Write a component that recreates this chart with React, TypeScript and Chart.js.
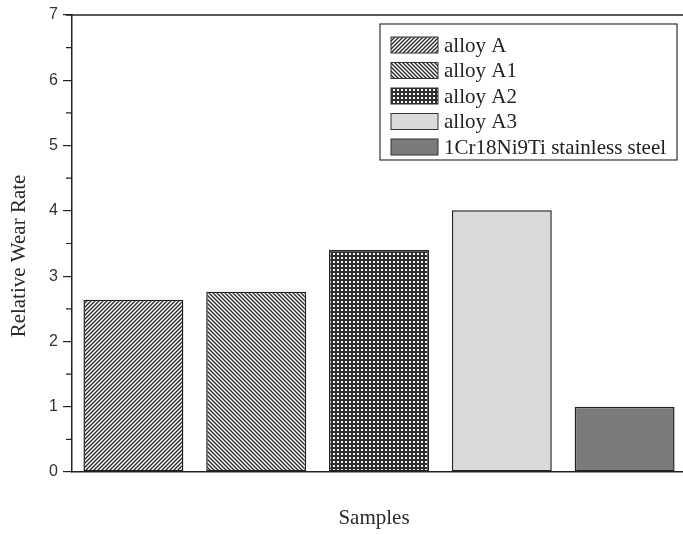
import React, { useEffect, useRef } from 'react';
import { Chart, registerables } from 'chart.js';

Chart.register(...registerables);

const categories = ['alloy A', 'alloy A1', 'alloy A2', 'alloy A3', '1Cr18Ni9Ti stainless steel'];
const wearRates = [2.64, 2.76, 3.4, 4.01, 1.0];
const fillKinds = ['forward', 'backward', 'dots', 'light', 'dark'];
const yMin = 0;
const yMax = 7;
const yStep = 1;
const xTitle = 'Samples';
const yTitle = 'Relative Wear Rate';

const SERIF = '"Liberation Serif", "Times New Roman", serif';
const SANS = '"Liberation Sans", Arial, sans-serif';

function makeFill(kind: string): CanvasPattern | string {
  if (kind === 'light') return '#d9d9d9';
  if (kind === 'dark') return '#7b7b7b';
  const c = document.createElement('canvas');
  const ctx = c.getContext('2d')!;
  if (kind === 'dots') {
    c.width = 4;
    c.height = 4;
    ctx.fillStyle = '#2e2e2e';
    ctx.fillRect(0, 0, 4, 4);
    ctx.fillStyle = '#f2f2f2';
    ctx.fillRect(1, 1, 2, 2);
    return ctx.createPattern(c, 'repeat')!;
  }
  const s = 4;
  c.width = s;
  c.height = s;
  ctx.fillStyle = '#ffffff';
  ctx.fillRect(0, 0, s, s);
  ctx.strokeStyle = '#262626';
  ctx.lineWidth = 1.3;
  ctx.beginPath();
  if (kind === 'forward') {
    ctx.moveTo(-1, s + 1);
    ctx.lineTo(s + 1, -1);
    ctx.moveTo(-1, 1);
    ctx.lineTo(1, -1);
    ctx.moveTo(s - 1, s + 1);
    ctx.lineTo(s + 1, s - 1);
  } else {
    ctx.moveTo(-1, -1);
    ctx.lineTo(s + 1, s + 1);
    ctx.moveTo(s - 1, -1);
    ctx.lineTo(s + 1, 1);
    ctx.moveTo(-1, s - 1);
    ctx.lineTo(1, s + 1);
  }
  ctx.stroke();
  return ctx.createPattern(c, 'repeat')!;
}

const framePlugin = {
  id: 'frameAndDecor',
  afterDraw(chart: any) {
    const { ctx, chartArea, scales } = chart;
    const ys = scales.y;
    ctx.save();
    // top frame line
    ctx.strokeStyle = '#222';
    ctx.lineWidth = 1.5;
    ctx.beginPath();
    ctx.moveTo(chartArea.left - 6, chartArea.top);
    ctx.lineTo(chartArea.right, chartArea.top);
    ctx.stroke();
    // minor ticks
    ctx.lineWidth = 1.2;
    ctx.beginPath();
    for (let v = yMin + yStep / 2; v < yMax; v += yStep) {
      const y = ys.getPixelForValue(v);
      ctx.moveTo(chartArea.left - 6, y);
      ctx.lineTo(chartArea.left, y);
    }
    ctx.stroke();
    // axis titles
    ctx.fillStyle = '#2a2a2a';
    ctx.font = `21px ${SERIF}`;
    ctx.textAlign = 'center';
    ctx.textBaseline = 'middle';
    ctx.fillText(xTitle, 374, 518);
    ctx.save();
    ctx.translate(19, 256);
    ctx.rotate(-Math.PI / 2);
    ctx.fillText(yTitle, 0, 0);
    ctx.restore();
    // legend
    const ds = chart.data.datasets[0];
    const bx = 380, by = 24, bw = 297, bh = 136;
    ctx.fillStyle = '#ffffff';
    ctx.fillRect(bx, by, bw, bh);
    ctx.strokeStyle = '#333';
    ctx.lineWidth = 1.2;
    ctx.strokeRect(bx, by, bw, bh);
    const labels: string[] = chart.data.labels;
    labels.forEach((lab: string, i: number) => {
      const cy = 45 + i * 25.5;
      ctx.fillStyle = ds.backgroundColor[i];
      ctx.fillRect(391, cy - 8, 47, 16);
      ctx.strokeStyle = '#333';
      ctx.lineWidth = 1;
      ctx.strokeRect(391, cy - 8, 47, 16);
      ctx.fillStyle = '#222';
      ctx.font = `21px ${SERIF}`;
      ctx.textAlign = 'left';
      ctx.textBaseline = 'middle';
      ctx.fillText(lab, 444, cy + 1);
    });
    ctx.restore();
  },
};

export default function App() {
  const ref = useRef<HTMLCanvasElement | null>(null);
  useEffect(() => {
    if (!ref.current) return;
    const fills = fillKinds.map(makeFill);
    const chart = new Chart(ref.current, {
      type: 'bar',
      data: {
        labels: categories,
        datasets: [
          {
            label: yTitle,
            data: wearRates,
            backgroundColor: fills as any,
            borderColor: '#222',
            borderWidth: 1.5,
            borderSkipped: false,
            barPercentage: 0.814,
            categoryPercentage: 1,
          },
        ],
      },
      options: {
        animation: false,
        responsive: false,
        devicePixelRatio: 1,
        layout: { padding: { top: 15, left: 0, right: 0, bottom: 0 } },
        plugins: { legend: { display: false }, tooltip: { enabled: false } },
        scales: {
          x: {
            ticks: { display: false },
            grid: { display: false },
            border: { display: true, color: '#222', width: 1.5 },
            afterFit: (s: any) => {
              s.height = 63;
            },
          },
          y: {
            min: yMin,
            max: yMax,
            ticks: {
              stepSize: yStep,
              padding: 5,
              color: '#333',
              font: { family: SANS, size: 16 },
            },
            grid: { drawOnChartArea: false, tickLength: 9, color: '#222', lineWidth: 1.2 },
            border: { display: true, color: '#222', width: 1.5 },
            afterFit: (s: any) => {
              s.width = 72;
            },
          },
        },
      },
      plugins: [framePlugin],
    });
    return () => chart.destroy();
  }, []);
  return (
    <div style={{ position: 'absolute', left: 0, top: 0, width: 683, height: 535, overflow: 'hidden', background: '#fff' }}>
      <canvas ref={ref} width={686} height={535} style={{ display: 'block' }} />
    </div>
  );
}
